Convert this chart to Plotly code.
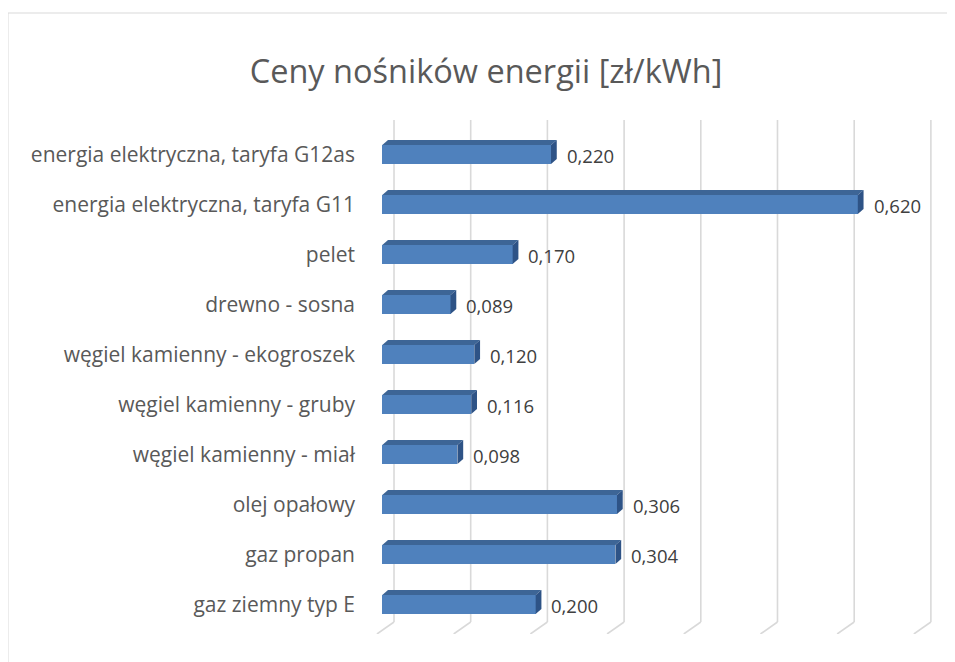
import plotly.graph_objects as go

categories = [
    "gaz ziemny typ E",
    "gaz propan",
    "olej opałowy",
    "węgiel kamienny - miał",
    "węgiel kamienny - gruby",
    "węgiel kamienny - ekogroszek",
    "drewno - sosna",
    "pelet",
    "energia elektryczna, taryfa G11",
    "energia elektryczna, taryfa G12as",
]
values = [0.200, 0.304, 0.306, 0.098, 0.116, 0.120, 0.089, 0.170, 0.620, 0.220]
grid_ticks = [0.0, 0.1, 0.2, 0.3, 0.4, 0.5, 0.6, 0.7]
title_text = "Ceny nośników energii [zł/kWh]"

FONT = "Open Sans"
FRONT = "#4F81BD"
TOP = "#3D6596"
SIDE = "#2E5386"
GRID = "#D9D9D9"

# 3D styling (in axis units)
H = 0.19          # half bar thickness
DX = 0.0075       # bar depth, x
DY = 0.10         # bar depth, y
BX = 0.0153       # back wall offset, x
FDX = 0.0222      # floor diagonal, x
Y_BACK = -0.35
Y_FRONT = -0.59
Y_TOP = 9.69

ypos = list(range(len(categories)))

fig = go.Figure()

# gridlines (back wall + floor) as shapes below the traces
for t in grid_ticks:
    fig.add_shape(type="line", xref="x", yref="y", layer="below",
                  x0=t + BX, x1=t + BX, y0=Y_TOP, y1=Y_BACK,
                  line=dict(color=GRID, width=1.6))
    fig.add_shape(type="line", xref="x", yref="y", layer="below",
                  x0=t + BX, x1=t + BX - FDX, y0=Y_BACK, y1=Y_FRONT,
                  line=dict(color=GRID, width=1.6))

# front faces
fig.add_trace(go.Bar(x=values, y=ypos, orientation="h", width=2 * H,
                     marker=dict(color=FRONT, line=dict(width=0)),
                     showlegend=False, hoverinfo="x+y"))

# top & side faces
for v, i in zip(values, ypos):
    fig.add_trace(go.Scatter(
        x=[0, v, v + DX, DX, 0], y=[i + H, i + H, i + H + DY, i + H + DY, i + H],
        mode="lines", fill="toself", fillcolor=TOP, line=dict(width=0, color=TOP),
        hoverinfo="skip", showlegend=False))
    fig.add_trace(go.Scatter(
        x=[v, v + DX, v + DX, v, v], y=[i - H, i - H + DY, i + H + DY, i + H, i - H],
        mode="lines", fill="toself", fillcolor=SIDE, line=dict(width=0, color=SIDE),
        hoverinfo="skip", showlegend=False))

# data labels
for v, i in zip(values, ypos):
    fig.add_annotation(x=v + DX, y=i, text=f"{v:.3f}".replace(".", ","),
                       xanchor="left", yanchor="middle", xshift=8, yshift=-1,
                       showarrow=False, font=dict(family=FONT, size=18.5, color="#404040"))

# page has an 8px body margin; size the figure so it fills the window
W, Hh = 947, 654
ML, MR, MT, MB = 362, 10, 112, 28
pw, ph = W - ML - MR, Hh - MT - MB

# chart area border
fig.add_shape(type="rect", xref="paper", yref="paper",
              x0=(0 - ML) / pw, x1=(W + 10 - ML) / pw,
              y0=-(MB + 10) / ph, y1=(Hh - MB - 5) / ph,
              line=dict(color=GRID, width=1), fillcolor="rgba(0,0,0,0)", layer="below")

fig.update_layout(
    width=W, height=Hh,
    margin=dict(l=ML, r=MR, t=MT, b=MB),
    paper_bgcolor="white", plot_bgcolor="white",
    title=dict(text=title_text, x=478 / W, xanchor="center", xref="container",
               y=1 - 64 / Hh, yanchor="middle", yref="container",
               font=dict(family=FONT, size=32.5, color="#595959")),
    xaxis=dict(range=[-0.016, 0.7337], showgrid=False, zeroline=False,
               showticklabels=False, showline=False, ticks=""),
    yaxis=dict(range=[Y_FRONT, Y_TOP], tickvals=ypos, ticktext=categories,
               showgrid=False, zeroline=False, showline=False, ticks="",
               ticklabelstandoff=14,
               tickfont=dict(family=FONT, size=21, color="#595959")),
    bargap=0,
)

fig.write_html("out.html")
